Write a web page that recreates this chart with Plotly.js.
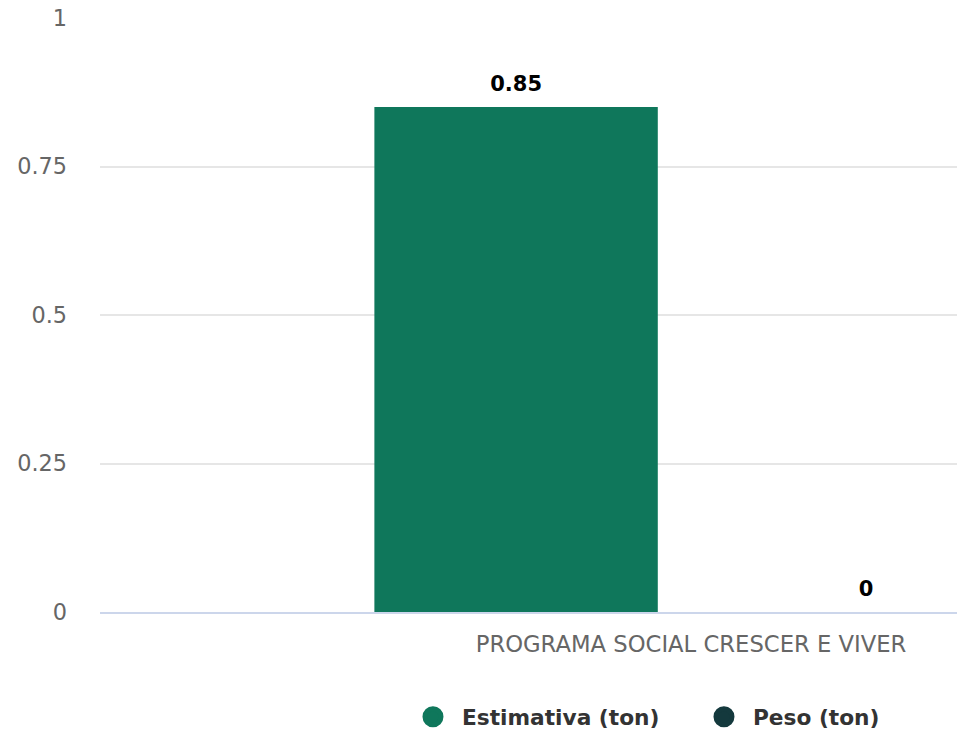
<!DOCTYPE html>
<html>
<head>
<meta charset="utf-8">
<script src="https://cdn.plot.ly/plotly-3.0.1.min.js"></script>
<style>html,body{margin:0;padding:0;background:#fff;}#chart{width:957px;height:738px;}</style>
</head>
<body>
<div id="chart"></div>
<script>
var categories = ["PROGRAMA SOCIAL CRESCER E VIVER"];
var seriesNames = ["Estimativa (ton)", "Peso (ton)"];
var estimativa = [0.85];
var peso = [0];
var yTicks = [0, 0.25, 0.5, 0.75, 1];
var yTickLabels = ["0", "0.25", "0.5", "0.75", "1"];

var colors = ["#0f775b", "#14393d"];
var FONT = "DejaVu Sans, Verdana, sans-serif";

// data label: value on top line, an empty (non-breaking space) line below lifts it off the bar
function label(v) {
  return "<span style='font-size:21px'>" + v + "</span><br>&nbsp;";
}

var traces = [
  {type: "bar", name: seriesNames[0], x: categories, y: estimativa, marker: {color: colors[0]},
   text: estimativa.map(label), textposition: "outside", cliponaxis: false,
   textfont: {family: FONT, size: 8.5, color: "#000", weight: "bold"}, showlegend: false, hoverinfo: "x+y"},
  {type: "bar", name: seriesNames[1], x: categories, y: peso, marker: {color: colors[1]},
   text: peso.map(label), textposition: "outside", cliponaxis: false,
   textfont: {family: FONT, size: 8.5, color: "#000", weight: "bold"}, showlegend: false, hoverinfo: "x+y"},
  {type: "scatter", mode: "markers", name: seriesNames[0], x: [null], y: [null],
   marker: {color: colors[0], size: 16, symbol: "circle", line: {color: colors[0], width: 5}}},
  {type: "scatter", mode: "markers", name: seriesNames[1], x: [null], y: [null],
   marker: {color: colors[1], size: 16, symbol: "circle", line: {color: colors[1], width: 5}}}
];

var layout = {
  width: 957, height: 738,
  margin: {l: 100, r: 0, t: 18, b: 126, autoexpand: false},
  paper_bgcolor: "#fff", plot_bgcolor: "#fff",
  font: {family: FONT, color: "#666"},
  barmode: "group", bargap: 0.408, bargroupgap: 0.19,
  showlegend: true,
  legend: {orientation: "h", x: 0.3547, xanchor: "left", y: -0.177, yanchor: "middle",
           font: {family: FONT, size: 21.7, color: "#333", weight: "bold"}, entrywidth: 228, itemwidth: 48, itemsizing: "trace"},
  xaxis: {type: "category", range: [-0.5, 0.225], showgrid: false, zeroline: false,
          showline: true, linecolor: "#ccd6eb", linewidth: 2, ticks: "", ticklabelstandoff: 11,
          tickfont: {family: FONT, size: 22.7, color: "#666"}, fixedrange: true},
  yaxis: {range: [0, 1], tickvals: yTicks, ticktext: yTickLabels, showgrid: true, gridcolor: "#e6e6e6", gridwidth: 2,
          zeroline: false, showline: false, ticks: "", ticklabelstandoff: 32,
          tickfont: {family: FONT, size: 22.4, color: "#666"}, fixedrange: true}
};

Plotly.newPlot("chart", traces, layout, {displayModeBar: false, staticPlot: true});
</script>
</body>
</html>
